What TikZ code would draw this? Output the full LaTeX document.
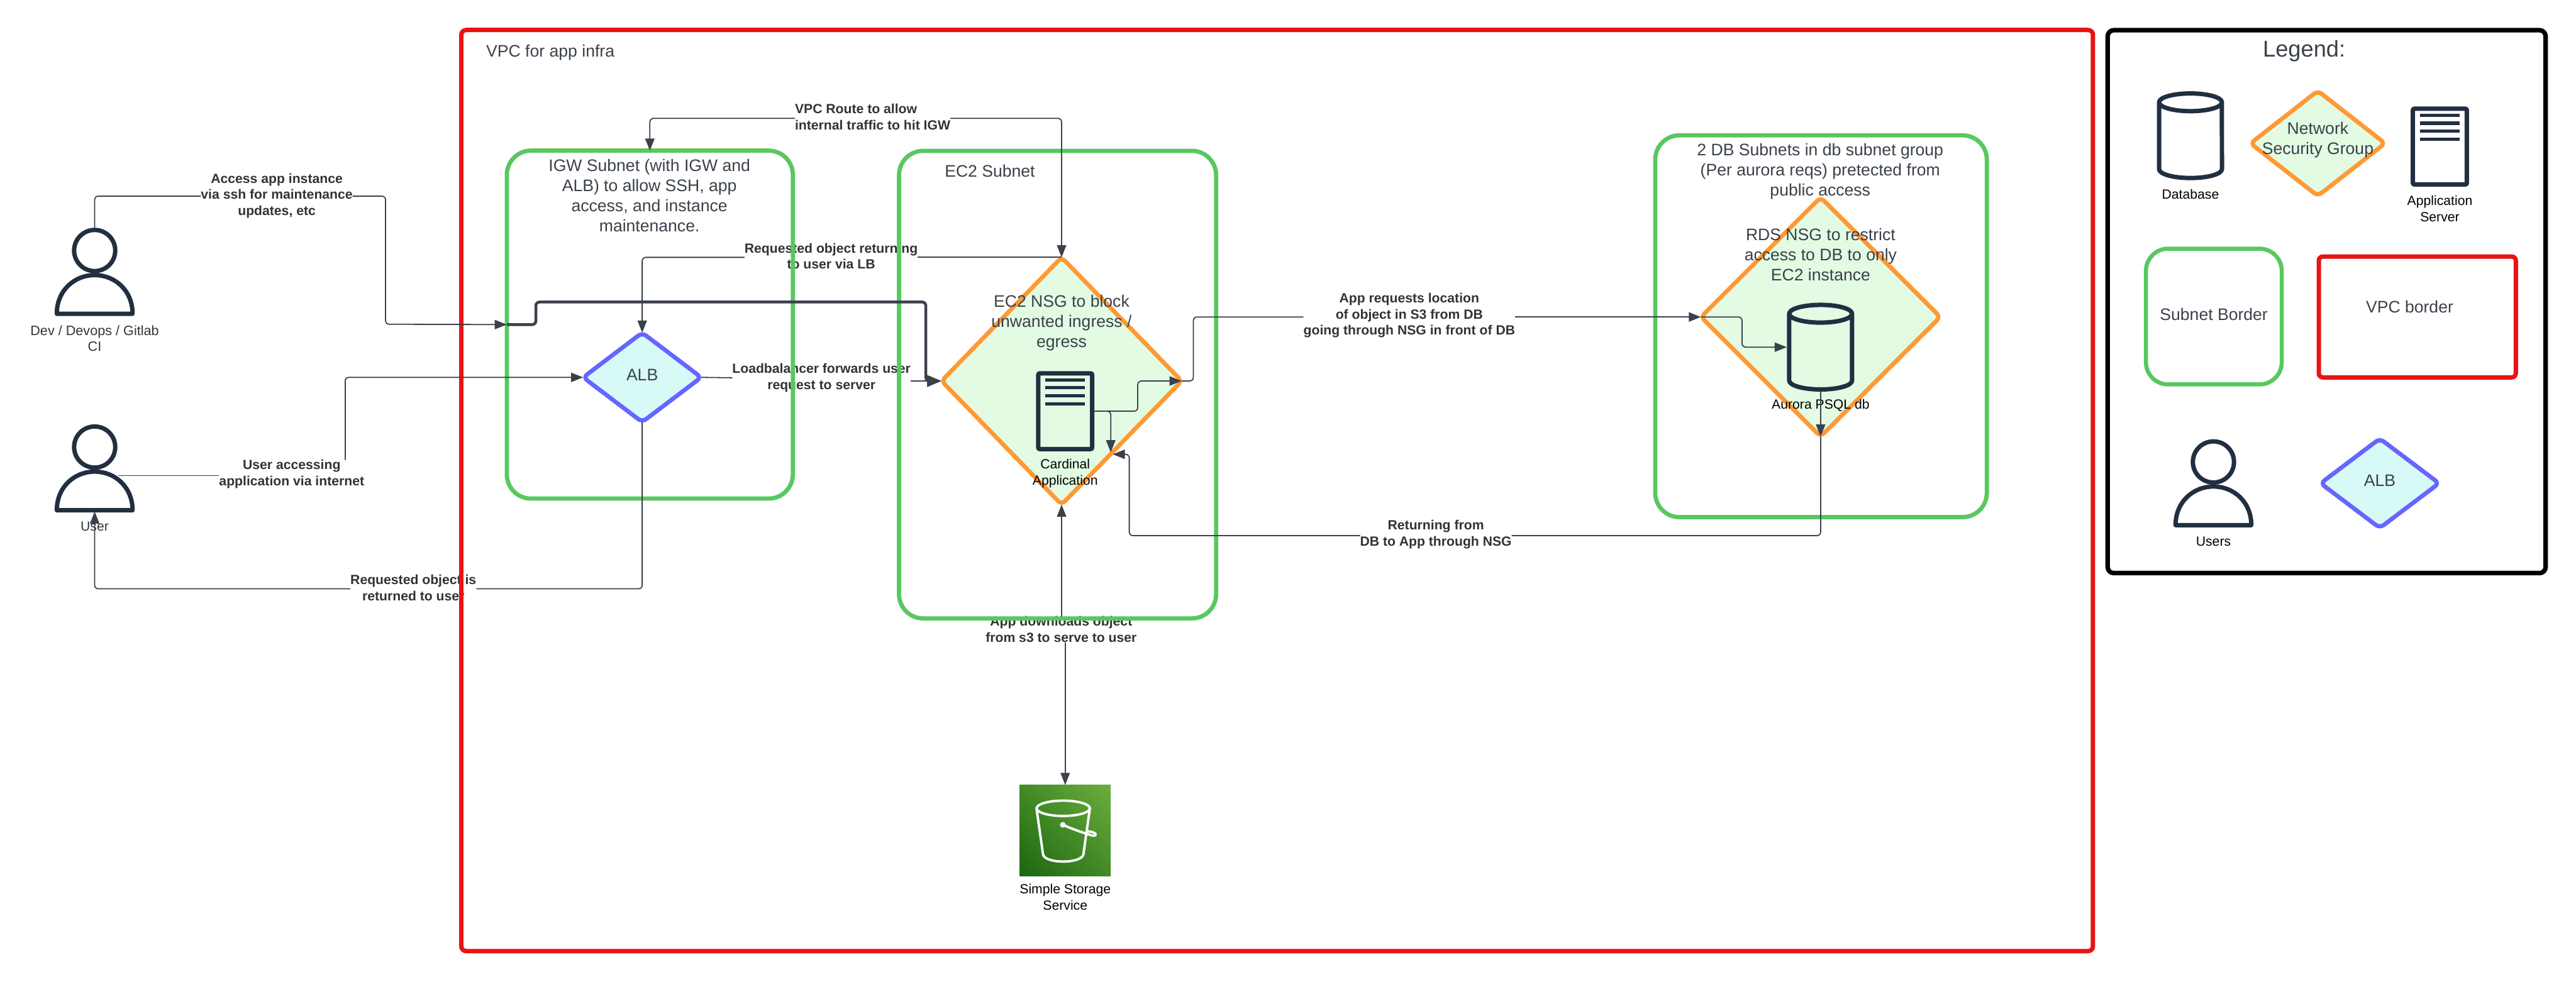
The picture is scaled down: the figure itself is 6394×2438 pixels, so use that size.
\documentclass[tikz,border=0pt]{standalone}
\usepackage{fontspec}
\setmainfont{Liberation Sans}
\usetikzlibrary{arrows.meta,shapes.geometric,shadings}
\definecolor{cgreen}{HTML}{58C85F}
\definecolor{cred}{HTML}{E81313}
\definecolor{corange}{HTML}{FF9933}
\definecolor{cnsg}{HTML}{E3FAE3}
\definecolor{cblue}{HTML}{6666FF}
\definecolor{calb}{HTML}{D7FAF6}
\definecolor{cicon}{HTML}{212F40}
\definecolor{ctext}{HTML}{3A414A}
\definecolor{clabel}{HTML}{333333}
\definecolor{sthree}{HTML}{1B660F}
\definecolor{sthreeb}{HTML}{6CAE3E}
\definecolor{sthreec}{HTML}{438A28}
\tikzset{
  x=0.01cm,y=-0.01cm,
  sz/.style 2 args={minimum width=#1*0.01cm,minimum height=#2*0.01cm,inner sep=0pt,outer sep=0pt},
  subnet/.style={rectangle,draw=cgreen,line width=3pt,rounded corners=0.6cm},
  vpcbox/.style={rectangle,draw=cred,line width=3.1pt,rounded corners=0.12cm},
  legendbox/.style={rectangle,draw=black,line width=3.2pt,rounded corners=0.15cm},
  nsgshape/.style={diamond,draw=corange,fill=cnsg,line width=3pt,rounded corners=0.12cm},
  albshape/.style={diamond,draw=cblue,fill=calb,line width=3pt,rounded corners=0.12cm},
  ttl/.style={inner sep=0pt,outer sep=0pt,align=center,text=ctext,font=\fontsize{11.8}{14.2}\selectfont},
  lab/.style={inner sep=0pt,outer sep=0pt,align=center,text=clabel,font=\fontsize{9.4}{11.4}\selectfont\bfseries},
  smalltxt/.style={inner sep=0pt,outer sep=0pt,align=center,text=black,font=\fontsize{9.4}{11.4}\selectfont},
  iconline/.style={draw=cicon,line width=3.1pt,line join=round},
  plainline/.style={draw=ctext,line width=0.8pt,rounded corners=0.09cm},
  conn/.style={plainline,-{Triangle[length=0.3cm,width=0.23cm]}},
  thickconn/.style={draw=ctext,line width=2pt,rounded corners=0.09cm,-{Triangle[length=0.36cm,width=0.28cm]}},
  personicon/.pic={
    \draw[iconline] (0,-109) circle [radius=0.51cm];
    \draw[iconline] (-94,48) .. controls (-94,-10) and (-50,-48) .. (0,-48) .. controls (50,-48) and (94,-10) .. (94,48) -- cycle;
    \coordinate (top) at (0,-165);
    \coordinate (base) at (0,51);
    \coordinate (side) at (58,-38);
  },
  servericon/.pic={
    \node[draw=cicon,line width=3.1pt,rounded corners=0.04cm,sz={134}{188}] (box) at (0,0) {};
    \foreach \yy in {-78,-58,-38,-18}
      \fill[cicon] (-49,\yy-4) rectangle (49,\yy+4);
    \coordinate (east) at (72,0);
  },
  dbicon/.pic={
    \draw[iconline] (-78,-83) arc[start angle=180,end angle=360,x radius=0.78cm,y radius=0.22cm]
      arc[start angle=0,end angle=180,x radius=0.78cm,y radius=0.22cm] -- (-78,83)
      arc[start angle=180,end angle=360,x radius=0.78cm,y radius=0.22cm] -- (78,-83);
    \coordinate (west) at (-84,0);
    \coordinate (south) at (0,110);
  },
}
\begin{document}
\begin{tikzpicture}
\useasboundingbox (0,0) rectangle (6394,2438);
% connector labels (lie below the borders)
\node[lab] (laccess) at (687,486) {Access app instance\\via ssh for maintenance\\updates, etc};
\node[lab] (luser) at (724,1177) {User accessing\\application via internet};
\node[lab] (lret) at (1026,1459) {Requested object is\\returned to user};
\node[lab,align=left] (lroute) at (2166,290) {VPC Route to allow\\internal traffic to hit IGW};
\node[lab] (lobj) at (2063,636) {Requested object returning\\to user via LB};
\node[lab] (llb) at (2039,938) {Loadbalancer forwards user\\request to server};
\node[lab] (ls3) at (2634,1563) {App downloads object\\from s3 to serve to user};
\node[lab] (lreq) at (3498,783) {App requests location\\of object in S3 from DB\\going through NSG in front of DB};
\node[lab] (ldb) at (3564,1327) {Returning from\\DB to App through NSG};
% borders
\node[vpcbox,sz={4050}{2287}] (vpc) at (3170,1218) {};
\node[subnet,sz={710}{864}] (igw) at (1613,806) {};
\node[subnet,sz={787}{1161}] (ec2) at (2625,955) {};
\node[subnet,sz={823}{948}] (dbn) at (4520,810) {};
\node[legendbox,sz={1087}{1348}] (legend) at (5775,749) {};
% diamonds
\node[albshape,sz={293}{222}] (alb) at (1594,937) {};
\node[nsgshape,sz={596}{614}] (nsg) at (2635,946) {};
\node[nsgshape,sz={594}{594}] (rds) at (4519,787) {};
% icons
\pic (dev) at (235,731) {personicon};
\pic (usr) at (235,1219) {personicon};
\pic (srv) at (2644,1021) {servericon};
\pic (dbi) at (4519,862) {dbicon};
% S3
\node[rectangle,sz={226}{226},shade,lower left=sthree,upper right=sthreeb,upper left=sthreec,lower right=sthreec] (s3) at (2644,2062) {};
\draw[white,line width=1.7pt] (2639,2007) ellipse [x radius=0.66cm,y radius=0.19cm];
\draw[white,line width=1.7pt,line join=round] (2573,2009) -- (2589,2122) .. controls (2595,2145) and (2683,2145) .. (2689,2122) -- (2705,2009);
\fill[white] (2638,2048) circle [radius=0.07cm];
\draw[white,line width=1.7pt] (2638,2048) .. controls (2665,2060) and (2690,2068) .. (2712,2075) .. controls (2725,2076) and (2722,2066) .. (2700,2064);
% texts in shapes
\node[ttl,anchor=west] (tvpc) at (1207,130) {VPC for app infra};
\node[ttl] (tigw) at (1612,485) {IGW Subnet (with IGW and\\ALB) to allow SSH, app\\access, and instance\\maintenance.};
\node[ttl] (talb) at (1594,931) {ALB};
\node[ttl] (tec2) at (2457,425) {EC2 Subnet};
\node[ttl] (tnsg) at (2635,802) {EC2 NSG to block\\unwanted ingress /\\egress};
\node[ttl] (tdbn) at (4518,426) {2 DB Subnets in db subnet group\\(Per aurora reqs) pretected from\\public access};
\node[ttl] (trds) at (4519,632) {RDS NSG to restrict\\access to DB to only\\EC2 instance};
\node[smalltxt,text=clabel,font=\fontsize{9.6}{11.4}\selectfont] (tdev) at (235,840) {Dev / Devops / Gitlab\\CI};
\node[smalltxt,text=clabel] (tusr) at (235,1307) {User};
\node[smalltxt] (tsrv) at (2644,1175) {Cardinal\\Application};
\node[smalltxt] (tdbi) at (4519,1007) {Aurora PSQL db};
\node[smalltxt] (ts3) at (2644,2227) {Simple Storage\\Service};
% legend
\node[ttl,font=\fontsize{16.1}{19}\selectfont] (tleg) at (5719,127) {Legend:};
\pic (ldb1) at (5437,337) {dbicon};
\node[smalltxt] (tldb) at (5437,482) {Database};
\node[nsgshape,sz={334}{261}] (lnsg) at (5753,356) {};
\node[ttl] (tlnsg) at (5753,348) {Network\\Security Group};
\pic (lsrv) at (6056,364) {servericon};
\node[smalltxt] (tlsrv) at (6056,518) {Application\\Server};
\node[subnet,sz={337}{337},line width=2.9pt,rounded corners=0.55cm] (lsub) at (5495,786) {};
\node[ttl] (tlsub) at (5495,781) {Subnet Border};
\node[vpcbox,sz={489}{300},rounded corners=0.1cm] (lvpc) at (6000,787) {};
\node[ttl] (tlvpc) at (5981,762) {VPC border};
\pic (lusr) at (5494,1256) {personicon};
\node[smalltxt] (tlusr) at (5494,1345) {Users};
\node[albshape,sz={294}{222}] (lalb) at (5907,1200) {};
\node[ttl] (tlalb) at (5907,1193) {ALB};
% connectors
\draw[plainline] (devtop) |- (laccess.west |- 0,487);
\draw[conn] (laccess.east |- 0,487) -| (957,805) -- (igw.west);
\draw[thickconn] (igw.west) -- (1330,806) -- (1330,750) -- (2298,750) -- (2298,946) -- (nsg.west);
\draw[plainline] (usrside) -- (luser.west |- usrside);
\draw[conn] (857,1142) |- (alb.west);
\draw[plainline] (alb.south) |- (lret.east |- 0,1462);
\draw[conn] (lret.west |- 0,1462) -| (usrbase);
\draw[conn] (lroute.west |- 0,294) -| (igw.north);
\draw[conn] (lroute.east |- 0,294) -| (nsg.north);
\draw[plainline] (nsg.north) -- (lobj.east |- nsg.north);
\draw[conn] (lobj.west |- nsg.north) -| (alb.north);
\draw[plainline] (alb.east) -- (llb.west);
\draw[conn] (llb.east |- nsg.west) -- (nsg.west);
\draw[conn] (nsg.south |- ls3.north) -- (nsg.south);
\draw[conn] (ls3.south -| s3.north) -- (s3.north);
\draw[plainline] (nsg.east) -- (2962,946) |- (lreq.west |- rds.west);
\draw[conn] (lreq.east |- rds.west) -- (rds.west);
\draw[conn] (srveast) -- (2824,1021) |- (nsg.east);
\draw[conn] (srveast) -| (2757,1123);
\draw[conn] (rds.west) -| (4324,862) -- (dbiwest);
\draw[conn] (4519,972) -- (rds.south);
\draw[plainline] (rds.south) |- (ldb.east |- 0,1330);
\draw[conn] (ldb.west |- 0,1330) -| (2803,1128) -- (2762,1128);
\end{tikzpicture}
\end{document}
